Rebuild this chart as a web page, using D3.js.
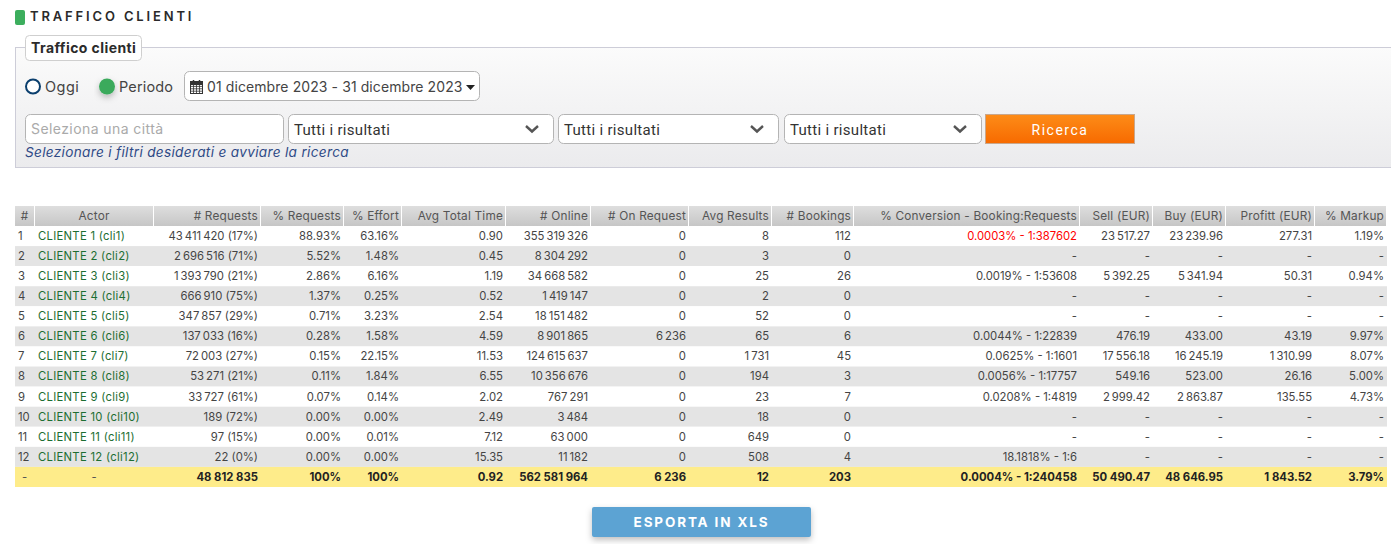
<!DOCTYPE html>
<html>
<head>
<meta charset="utf-8">
<title>Traffico clienti</title>
<script src="https://cdn.jsdelivr.net/npm/d3@7"></script>
<style>
html, body { margin: 0; padding: 0; background: #fff; overflow: hidden; }
svg { display: block; font-family: Inter, "Open Sans", sans-serif; }
</style>
</head>
<body>
<svg id="chart" width="1391" height="544"></svg>
<script>
// table data
const headers = ["#", "Actor", "# Requests", "% Requests", "% Effort", "Avg Total Time", "# Online", "# On Request", "Avg Results", "# Bookings", "% Conversion - Booking:Requests", "Sell (EUR)", "Buy (EUR)", "Profitt (EUR)", "% Markup"]
const actors = ["CLIENTE 1 (cli1)", "CLIENTE 2 (cli2)", "CLIENTE 3 (cli3)", "CLIENTE 4 (cli4)", "CLIENTE 5 (cli5)", "CLIENTE 6 (cli6)", "CLIENTE 7 (cli7)", "CLIENTE 8 (cli8)", "CLIENTE 9 (cli9)", "CLIENTE 10 (cli10)", "CLIENTE 11 (cli11)", "CLIENTE 12 (cli12)"]
const requests = [43411420, 2696516, 1393790, 666910, 347857, 137033, 72003, 53271, 33727, 189, 97, 22]
const requestRate = [17, 71, 21, 75, 29, 16, 27, 21, 61, 72, 15, 0]
const requestShare = [88.93, 5.52, 2.86, 1.37, 0.71, 0.28, 0.15, 0.11, 0.07, 0, 0, 0]
const effort = [63.16, 1.48, 6.16, 0.25, 3.23, 1.58, 22.15, 1.84, 0.14, 0, 0.01, 0]
const avgTime = [0.90, 0.45, 1.19, 0.52, 2.54, 4.59, 11.53, 6.55, 2.02, 2.49, 7.12, 15.35]
const online = [355319326, 8304292, 34668582, 1419147, 18151482, 8901865, 124615637, 10356676, 767291, 3484, 63000, 11182]
const onRequest = [0, 0, 0, 0, 0, 6236, 0, 0, 0, 0, 0, 0]
const avgResults = [8, 3, 25, 2, 52, 65, 1731, 194, 23, 18, 649, 508]
const bookings = [112, 0, 26, 0, 0, 6, 45, 3, 7, 0, 0, 4]
const conversion = [0.0003, null, 0.0019, null, null, 0.0044, 0.0625, 0.0056, 0.0208, null, null, 18.1818]
const conversionRatio = [387602, null, 53608, null, null, 22839, 1601, 17757, 4819, null, null, 6]
const sell = [23517.27, null, 5392.25, null, null, 476.19, 17556.18, 549.16, 2999.42, null, null, null]
const buy = [23239.96, null, 5341.94, null, null, 433.00, 16245.19, 523.00, 2863.87, null, null, null]
const profit = [277.31, null, 50.31, null, null, 43.19, 1310.99, 26.16, 135.55, null, null, null]
const markup = [1.19, null, 0.94, null, null, 9.97, 8.07, 5.00, 4.73, null, null, null]
const totals = ["-", "-", "48 812 835", "100%", "100%", "0.92", "562 581 964", "6 236", "12", "203", "0.0004% - 1:240458", "50 490.47", "48 646.95", "1 843.52", "3.79%"]

const locale = d3.formatLocale({decimal: ".", thousands: "\u2009", grouping: [3], currency: ["", ""]})
const fInt = locale.format(",d")
const fDec = locale.format(",.2f")
const fPct = v => d3.format(".2f")(v) + "%"
const dash = (v, f) => v === null ? "-" : f(v)

const rows = actors.map((actor, i) => [
    String(i + 1),
    actor,
    `${fInt(requests[i])} (${requestRate[i]}%)`,
    fPct(requestShare[i]),
    fPct(effort[i]),
    d3.format(".2f")(avgTime[i]),
    fInt(online[i]),
    fInt(onRequest[i]),
    fInt(avgResults[i]),
    fInt(bookings[i]),
    conversion[i] === null ? "-" : `${d3.format(".4f")(conversion[i])}% - 1:${conversionRatio[i]}`,
    dash(sell[i], fDec),
    dash(buy[i], fDec),
    dash(profit[i], fDec),
    dash(markup[i], fPct)
])

// layout
const colEdges = [15, 35, 154, 261, 344, 402, 506, 591, 689, 772, 854, 1080, 1153, 1226, 1315, 1387]
const svg = d3.select("#chart")
const defs = svg.append("defs")

function gradient(id, top, bottom) {
    const g = defs.append("linearGradient").attr("id", id).attr("x1", 0).attr("x2", 0).attr("y1", 0).attr("y2", 1)
    g.append("stop").attr("offset", "0%").attr("stop-color", top)
    g.append("stop").attr("offset", "100%").attr("stop-color", bottom)
}
gradient("panelGrad", "#fbfbfb", "#ebebed")
gradient("headGrad", "#dedede", "#c6c6c6")
gradient("btnGrad", "#fd8c18", "#f76a00")

const shadow = defs.append("filter").attr("id", "soft").attr("x", "-30%").attr("y", "-50%").attr("width", "160%").attr("height", "220%")
shadow.append("feDropShadow").attr("dx", 0).attr("dy", 3).attr("stdDeviation", 3).attr("flood-color", "#000").attr("flood-opacity", 0.25)

// title
svg.append("rect").attr("x", 15).attr("y", 10).attr("width", 10).attr("height", 15).attr("rx", 2).attr("fill", "#3cae5d")
svg.append("text").attr("x", 30).attr("y", 21).text("TRAFFICO CLIENTI")
    .attr("font-size", 13).attr("font-weight", 600).attr("letter-spacing", 2.85).attr("fill", "#2a2a2a")

// filter panel
svg.append("rect").attr("x", 15.5).attr("y", 47.5).attr("width", 1400).attr("height", 120)
    .attr("fill", "url(#panelGrad)").attr("stroke", "#cdcdd8")
svg.append("rect").attr("x", 25.5).attr("y", 35.5).attr("width", 116).attr("height", 25).attr("rx", 4)
    .attr("fill", "#fff").attr("stroke", "#cfcfcf")
svg.append("text").attr("x", 31).attr("y", 53).text("Traffico clienti")
    .attr("font-size", 14).attr("font-weight", 700).attr("letter-spacing", 0.42).attr("fill", "#2b2b2b")

svg.append("circle").attr("cx", 33).attr("cy", 86.5).attr("r", 7).attr("fill", "#fff").attr("stroke", "#0b3f6e").attr("stroke-width", 2)
svg.append("text").attr("x", 45).attr("y", 92).text("Oggi").attr("font-size", 14.5).attr("letter-spacing", 0.5).attr("fill", "#444")
svg.append("circle").attr("cx", 107).attr("cy", 86.5).attr("r", 8).attr("fill", "#3aaa5b").attr("filter", "url(#soft)")
svg.append("text").attr("x", 119).attr("y", 92).text("Periodo").attr("font-size", 14.5).attr("letter-spacing", 0.15).attr("fill", "#444")

function box(x, y, w, h) {
    return svg.append("rect").attr("x", x + 0.5).attr("y", y + 0.5).attr("width", w - 1).attr("height", h - 1).attr("rx", 5)
        .attr("fill", "#fff").attr("stroke", "#b4b4b4")
}

// date picker
box(184, 71, 296, 30)
const cal = svg.append("g").attr("transform", "translate(190,80)").attr("fill", "none").attr("stroke", "#333")
cal.append("rect").attr("x", 0.5).attr("y", 1.5).attr("width", 12).attr("height", 12).attr("stroke-width", 1)
cal.append("rect").attr("x", 0.5).attr("y", 1.5).attr("width", 12).attr("height", 3).attr("fill", "#333")
d3.range(1, 4).forEach(i => {
    cal.append("line").attr("x1", 0.5 + i * 3).attr("x2", 0.5 + i * 3).attr("y1", 4).attr("y2", 13).attr("stroke-width", 0.8)
    cal.append("line").attr("x1", 0.5).attr("x2", 12.5).attr("y1", 4 + i * 2.4).attr("y2", 4 + i * 2.4).attr("stroke-width", 0.8)
})
cal.append("line").attr("x1", 3.5).attr("x2", 3.5).attr("y1", 0).attr("y2", 3).attr("stroke-width", 1.5)
cal.append("line").attr("x1", 9.5).attr("x2", 9.5).attr("y1", 0).attr("y2", 3).attr("stroke-width", 1.5)
svg.append("text").attr("x", 207).attr("y", 92).text("01 dicembre 2023 - 31 dicembre 2023").attr("font-size", 14).attr("letter-spacing", 0.09).attr("fill", "#444")
svg.append("path").attr("d", "M466,85h9l-4.5,5z").attr("fill", "#222")

// search inputs
box(25, 114, 259, 30)
svg.append("text").attr("x", 31).attr("y", 134).text("Seleziona una città").attr("font-size", 14).attr("letter-spacing", 0.42).attr("fill", "#aaa")
const selects = [[288, 266], [558, 221], [784, 198]]
selects.forEach(([x, w]) => {
    box(x, 114, w, 30)
    svg.append("text").attr("x", x + 6).attr("y", 135).text("Tutti i risultati")
        .attr("font-family", "Roboto").attr("font-size", 15).attr("letter-spacing", 0.3).attr("fill", "#333")
    const cx = x + w - 22
    svg.append("path").attr("d", `M${cx - 6},126l6,5.5l6,-5.5`).attr("fill", "none").attr("stroke", "#555").attr("stroke-width", 2.4)
})
svg.append("rect").attr("x", 985.5).attr("y", 114.5).attr("width", 149).attr("height", 29)
    .attr("fill", "url(#btnGrad)").attr("stroke", "#c9a78c")
svg.append("text").attr("x", 1060).attr("y", 135).attr("text-anchor", "middle").text("Ricerca")
    .attr("font-family", "Roboto").attr("font-size", 14).attr("letter-spacing", 1.5).attr("fill", "#fff")
svg.append("text").attr("x", 25).attr("y", 157).text("Selezionare i filtri desiderati e avviare la ricerca")
    .attr("font-size", 13.6).attr("font-style", "italic").attr("letter-spacing", 0.33).attr("fill", "#2f4a86")

// table
const yRow = d3.scaleBand().domain(d3.range(rows.length + 1)).range([226, 487])
const rowMid = i => yRow(i) + yRow.bandwidth() / 2 - 0.2
const colLeft = d3.scaleOrdinal(headers, colEdges.slice(0, -1))
const colRight = d3.scaleOrdinal(headers, colEdges.slice(1).map(e => e - 1))
const table = svg.append("g").attr("font-size", 11.3)

table.selectAll("rect.head").data(headers).join("rect").attr("class", "head")
    .attr("x", d => colLeft(d)).attr("y", 206)
    .attr("width", d => colRight(d) - colLeft(d)).attr("height", 20)
    .attr("fill", "url(#headGrad)")
table.selectAll("text.head").data(headers).join("text").attr("class", "head")
    .attr("x", (d, i) => i < 2 ? (colLeft(d) + colRight(d)) / 2 : colRight(d) - 2)
    .attr("y", 216).attr("dy", "0.36em")
    .attr("text-anchor", (d, i) => i < 2 ? "middle" : "end")
    .attr("font-size", 11.8).attr("letter-spacing", 0.2)
    .attr("fill", "#555")
    .text(d => d)

table.selectAll("rect.row").data(d3.range(rows.length + 1)).join("rect").attr("class", "row")
    .attr("x", 15).attr("y", d => yRow(d))
    .attr("width", colEdges[colEdges.length - 1] - 15).attr("height", yRow.bandwidth())
    .attr("fill", d => d === rows.length ? "#feec8a" : d % 2 ? "#e4e4e4" : "#fff")

const rowG = table.selectAll("g.row").data(rows).join("g").attr("class", "row")
    .attr("transform", (d, i) => `translate(0,${rowMid(i)})`)
rowG.selectAll("text").data((d, i) => d.map((v, c) => ({v, c, i}))).join("text")
    .attr("x", d => d.c === 0 ? 18 : d.c === 1 ? 38 : colRight(headers[d.c]) - 2)
    .attr("dy", "0.36em")
    .attr("text-anchor", d => d.c < 2 ? "start" : "end")
    .attr("letter-spacing", d => d.c === 1 ? 0.28 : 0)
    .attr("fill", d => d.c === 1 ? "#1c6e32" : (d.c === 10 && d.i === 0) ? "#ff0000" : "#444")
    .text(d => d.v)

table.append("g").attr("transform", `translate(0,${rowMid(rows.length)})`)
    .selectAll("text").data(totals).join("text")
    .attr("x", (d, i) => i < 2 ? (colLeft(headers[i]) + colRight(headers[i])) / 2 : colRight(headers[i]) - 2)
    .attr("dy", "0.36em")
    .attr("text-anchor", (d, i) => i < 2 ? "middle" : "end")
    .attr("font-weight", (d, i) => i < 2 ? 400 : 700)
    .attr("fill", (d, i) => i < 2 ? "#555" : "#222")
    .text(d => d)

// export button
svg.append("rect").attr("x", 592).attr("y", 507).attr("width", 219).attr("height", 30).attr("rx", 2)
    .attr("fill", "#5ba3d3").attr("filter", "url(#soft)")
svg.append("text").attr("x", 701.5).attr("y", 527).attr("text-anchor", "middle").text("ESPORTA IN XLS")
    .attr("font-size", 13.5).attr("font-weight", 700).attr("letter-spacing", 1.85).attr("fill", "#fff")
</script>
</body>
</html>
